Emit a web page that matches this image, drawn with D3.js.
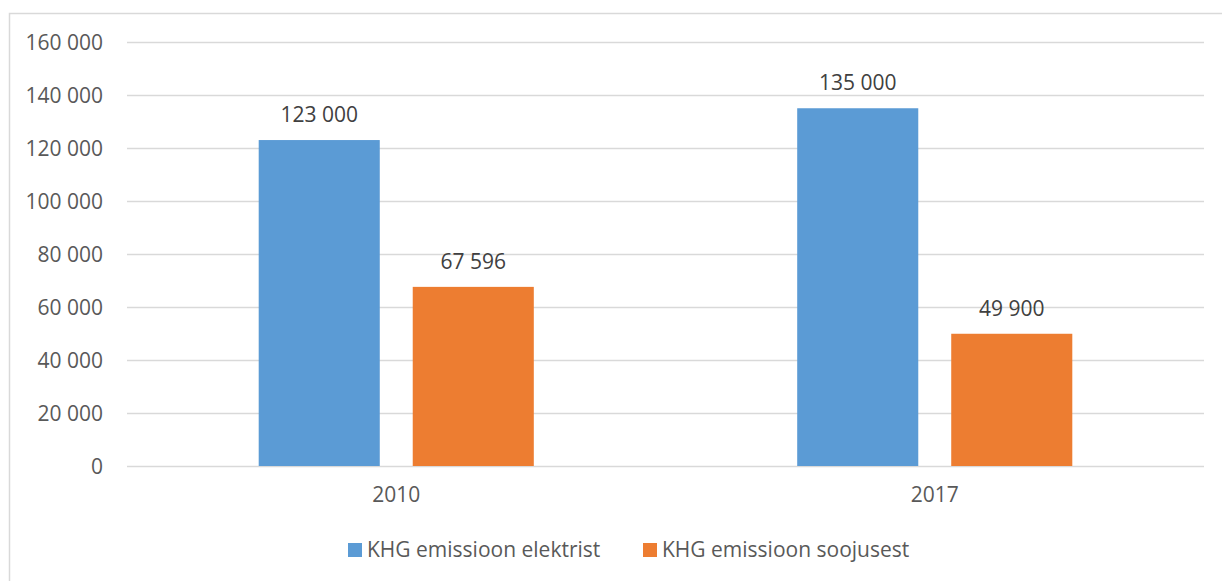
<!DOCTYPE html>
<html>
<head>
<meta charset="utf-8">
<script src="https://cdn.jsdelivr.net/npm/d3@7"></script>
<style>
  body { margin: 0; background: #fff; }
  svg text { font-family: 'Open Sans', sans-serif; }
</style>
</head>
<body>
<div id="chart"></div>
<script>
// chart values
var years = ['2010', '2017'];
var seriesNames = ['KHG emissioon elektrist', 'KHG emissioon soojusest'];
var elektrist = [123000, 135000];
var soojusest = [67596, 49900];
var yTicks = [0, 20000, 40000, 60000, 80000, 100000, 120000, 140000, 160000];
var colors = ['#5B9BD5', '#ED7D31'];

var chartW = 1222,
  chartH = 581,
  plotLeft = 127,
  plotRight = 1204,
  plotTop = 42,
  plotBottom = 466;

var fmt = (v) => d3.format(',')(v).replace(/,/g, ' ');

var rows = years.map((y, i) => ({
  year: y,
  values: [elektrist[i], soojusest[i]],
}));

var svg = d3
  .select('#chart')
  .append('svg')
  .attr('width', chartW)
  .attr('height', chartH);

// outer frame
svg
  .append('rect')
  .attr('x', 9.5)
  .attr('y', 13.5)
  .attr('width', 1230)
  .attr('height', 600)
  .attr('fill', 'none')
  .attr('stroke', '#D9D9D9')
  .attr('stroke-width', 1.5);

var x = d3.scaleBand().domain(years).range([plotLeft, plotRight]).padding(0);
var xs = d3
  .scaleBand()
  .domain([0, 1])
  .range([0, x.bandwidth()])
  .paddingInner(0.214)
  .paddingOuter(0.855);
var y = d3.scaleLinear().domain([0, 160000]).range([plotBottom, plotTop]);

// y axis + gridlines
var yAxis = svg
  .append('g')
  .attr('transform', 'translate(' + plotLeft + ',0)')
  .call(
    d3
      .axisLeft(y)
      .tickValues(yTicks)
      .tickFormat(fmt)
      .tickSize(-(plotRight - plotLeft))
      .tickPadding(24)
  );
yAxis.select('.domain').remove();
yAxis.selectAll('line').attr('stroke', '#D9D9D9').attr('stroke-width', 1.3);
yAxis
  .selectAll('text')
  .attr('fill', '#595959')
  .style('font-size', '21px')
  .attr('dy', '0.34em');

// x axis labels
var xAxis = svg
  .append('g')
  .attr('transform', 'translate(0,' + plotBottom + ')')
  .call(d3.axisBottom(x).tickSize(0).tickPadding(21));
xAxis.select('.domain').remove();
xAxis
  .selectAll('text')
  .attr('fill', '#595959')
  .style('font-size', '21px');

// bars
var groups = svg
  .selectAll('.grp')
  .data(rows)
  .enter()
  .append('g')
  .attr('class', 'grp')
  .attr('transform', (d) => 'translate(' + x(d.year) + ',0)');

groups
  .selectAll('rect')
  .data((d) => d.values)
  .enter()
  .append('rect')
  .attr('x', (d, i) => xs(i))
  .attr('width', xs.bandwidth())
  .attr('y', (d) => y(d))
  .attr('height', (d) => plotBottom - y(d))
  .attr('fill', (d, i) => colors[i]);

groups
  .selectAll('.lbl')
  .data((d) => d.values)
  .enter()
  .append('text')
  .attr('class', 'lbl')
  .attr('x', (d, i) => xs(i) + xs.bandwidth() / 2)
  .attr('y', (d) => y(d) - 18)
  .attr('text-anchor', 'middle')
  .attr('fill', '#404040')
  .style('font-size', '21px')
  .text(fmt);

// legend
var legendX = [348, 643];
var legend = svg
  .selectAll('.leg')
  .data(seriesNames)
  .enter()
  .append('g')
  .attr('class', 'leg')
  .attr('transform', (d, i) => 'translate(' + legendX[i] + ',543)');
legend
  .append('rect')
  .attr('width', 14)
  .attr('height', 14)
  .attr('fill', (d, i) => colors[i]);
legend
  .append('text')
  .attr('x', 19)
  .attr('y', 14)
  .attr('fill', '#595959')
  .style('font-size', '21px')
  .text((d) => d);
</script>
</body>
</html>
